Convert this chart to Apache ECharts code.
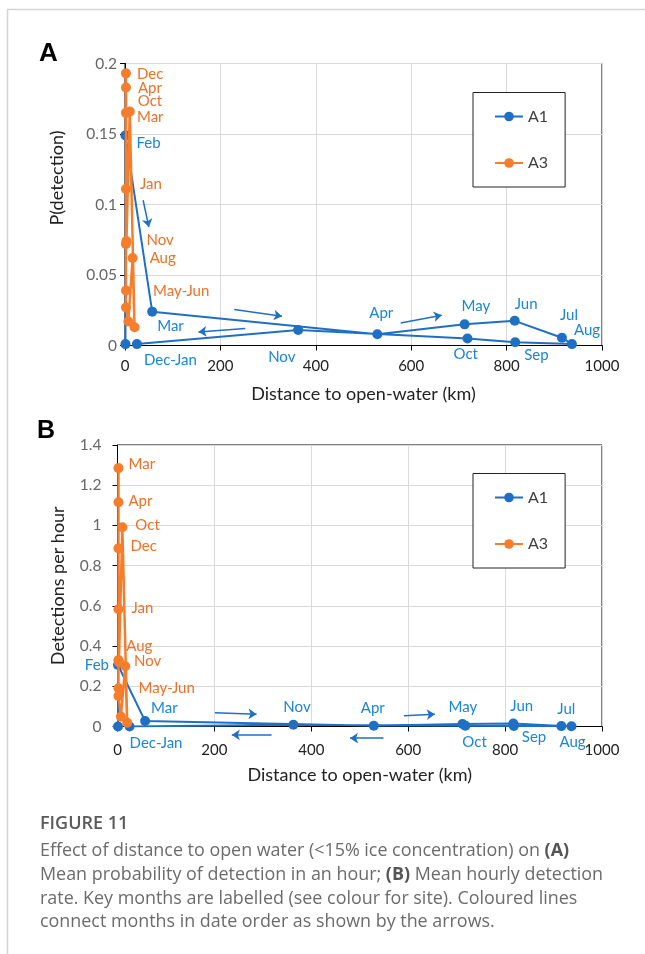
<!DOCTYPE html>
<html><head><meta charset="utf-8">
<script src="https://cdn.jsdelivr.net/npm/echarts@6/dist/echarts.min.js"></script>
<style>html,body{margin:0;padding:0;background:#fff}#c{width:645px;height:954px}</style>
</head><body><div id="c"></div>
<script>
// ---------------- data ----------------
const months = ['Jan','Feb','Mar','Apr','May','Jun','Jul','Aug','Sep','Oct','Nov','Dec'];
// Site A1 (blue)
const distA1 = [1, 1, 57, 529, 712, 817, 916, 937, 818, 718, 363, 25];
const probA1 = [0.001, 0.149, 0.024, 0.008, 0.015, 0.0175, 0.0055, 0.001, 0.0023, 0.005, 0.011, 0.001];
const rateA1 = [0, 0.306, 0.027, 0.004, 0.012, 0.015, 0.002, 0.001, 0.003, 0.004, 0.009, 0];
// Site A3 (orange)
const distA3 = [2, 2, 2, 2, 2, 2, 7, 16, 20, 10, 3, 2];
const probA3 = [0.111, 0.072, 0.165, 0.183, 0.039, 0.027, 0.017, 0.062, 0.013, 0.166, 0.074, 0.193];
const rateA3 = [0.583, 0.33, 1.285, 1.115, 0.19, 0.152, 0.049, 0.30, 0.019, 0.991, 0.32, 0.886];
// arrows (data coordinates: [km, value] start -> end)
const arrowsA = [
  [[38, 0.103], [50, 0.084]],
  [[229, 0.0255], [329, 0.0208]],
  [[252, 0.0121], [154, 0.0096]],
  [[578, 0.016], [664, 0.0215]]
];
const arrowsB = [
  [[201, 0.069], [287, 0.061]],
  [[318, -0.042], [236, -0.042]],
  [[549, -0.056], [480, -0.058]],
  [[591, 0.054], [655, 0.061]]
];
const xTicks = {min: 0, max: 1000, step: 200};
const yTicksA = {min: 0, max: 0.2, step: 0.05};
const yTicksB = {min: 0, max: 1.4, step: 0.2};

// ---------------- label placement (pixel offsets) ----------------
const labA1 = {Feb:{o:[11,8]}, Mar:{o:[5,14]}, Apr:{o:[-8,-21]}, May:{o:[-3,-18]}, Jun:{o:[0,-17]},
  Jul:{o:[-2,-23]}, Aug:{o:[2,-14]}, Sep:{o:[9,13]}, Oct:{o:[-14,16]}, Nov:{o:[-30,27]}, Dec:{o:[7,16],t:'Dec-Jan'}};
const labA3 = {Dec:{o:[11,1]}, Apr:{o:[12,1]}, Oct:{o:[8,-10]}, Mar:{o:[11,4]}, Jan:{o:[14,-5]},
  Nov:{o:[20,-1]}, Aug:{o:[17,0]}, May:{o:[27,1],t:'May-Jun'}};
const labB1 = {Feb:{o:[-9,0],a:'right'}, Mar:{o:[6,-13]}, Dec:{o:[0,17],t:'Dec-Jan'}, Nov:{o:[-10,-18]},
  Apr:{o:[-13,-18]}, May:{o:[-14,-17]}, Jun:{o:[-3,-17]}, Jul:{o:[-4,-17]}, Aug:{o:[-12,16]}, Sep:{o:[8,11]}, Oct:{o:[-3,16]}};
const labB3 = {Mar:{o:[10,-4]}, Apr:{o:[10,-1]}, Oct:{o:[13,-2]}, Dec:{o:[12,-2]}, Jan:{o:[13,-1]},
  Aug:{o:[1,-20]}, Nov:{o:[15,-1]}, May:{o:[20,0],t:'May-Jun'}};

const FONT = 'Lato, "Noto Sans", sans-serif';
const BLUE = '#1f6fc5', BLUE_L = '#1a86d8', ORANGE = '#f57d2b', ORANGE_L = '#ec7228';

function items(dist, vals, labs, labColor) {
  return dist.map((d, i) => {
    const m = months[i], L = labs[m];
    const it = {name: m, value: [d, vals[i]]};
    if (L) it.label = {show: true, formatter: L.t || m, position: 'inside', offset: L.o,
      align: L.a || 'left', verticalAlign: 'middle', color: labColor, fontSize: 15, fontFamily: FONT};
    return it;
  });
}
function lineSeries(name, gi, data, color) {
  return {type: 'line', name, xAxisIndex: gi, yAxisIndex: gi, data, symbol: 'circle', symbolSize: 10,
    lineStyle: {width: name === 'A3' ? 2.5 : 2, color}, itemStyle: {color}, label: {show: false}, z: name === 'A3' ? 3 : 2,
    emphasis: {disabled: true}, animation: false};
}
function arrowSeries(gi, arr) {
  return {type: 'lines', coordinateSystem: 'cartesian2d', xAxisIndex: gi, yAxisIndex: gi, clip: false,
    data: arr.map(c => ({coords: c})), symbol: ['none', 'arrow'], symbolSize: 8,
    lineStyle: {color: BLUE, width: 1.5, opacity: 1, curveness: 0}, z: 4, silent: true, animation: false};
}
function xAxis(gi, margin) {
  return {type: 'value', gridIndex: gi, min: xTicks.min, max: xTicks.max, interval: xTicks.step,
    name: 'Distance to open-water (km)', nameLocation: 'middle', nameGap: 40,
    nameTextStyle: {fontSize: 18, color: '#222', fontFamily: FONT},
    axisLine: {show: true, lineStyle: {color: '#000', width: 1}},
    axisTick: {show: true, length: 5, lineStyle: {color: '#000'}},
    axisLabel: {fontSize: 15, color: '#222', margin, fontFamily: FONT, formatter: v => String(v)},
    splitLine: {show: true, lineStyle: {color: '#d9d9d9', width: 1}}};
}
function yAxis(gi, t, name, margin, gap) {
  return {type: 'value', gridIndex: gi, min: t.min, max: t.max, interval: t.step,
    name, nameLocation: 'middle', nameGap: gap,
    nameTextStyle: {fontSize: 18, color: '#222', fontFamily: FONT},
    axisLine: {show: true, lineStyle: {color: '#000', width: 1}},
    axisTick: {show: true, length: 5, lineStyle: {color: '#000'}},
    axisLabel: {fontSize: 15.5, color: '#666', margin, fontFamily: FONT},
    splitLine: {show: true, lineStyle: {color: '#d9d9d9', width: 1}}};
}
function legend(top) {
  return {left: 473, top, orient: 'vertical', data: ['A1', 'A3'], itemWidth: 28, itemHeight: 12, itemGap: 30.5,
    padding: [16, 17, 16, 21], borderColor: '#222', borderWidth: 1, backgroundColor: '#fff', selectedMode: false,
    textStyle: {fontSize: 16, color: '#404040', fontFamily: FONT}};
}
const capFont = '17.9px "Open Sans", Lato, sans-serif';
function capLine(text, y) {
  return {type: 'text', left: 40, top: y - 8, silent: true,
    style: {text, font: capFont, fill: '#6b6b6b',
      rich: {b: {font: 'bold 17.9px "Open Sans", Lato, sans-serif', fill: '#555'}}}};
}

const option = {
  backgroundColor: '#fff',
  animation: false,
  grid: [
    {left: 125, top: 63.5, width: 477, height: 282, show: true, borderColor: '#000', borderWidth: 1, containLabel: false},
    {left: 117.5, top: 445, width: 484.5, height: 281.5, show: true, borderColor: '#000', borderWidth: 1, containLabel: false}
  ],
  xAxis: [xAxis(0, 13), xAxis(1, 16)],
  yAxis: [yAxis(0, yTicksA, '', 8, 52), yAxis(1, yTicksB, 'Detections per hour', 16, 50)],
  legend: [legend(92.5), legend(473.5)],
  series: [
    lineSeries('A1', 0, items(distA1, probA1, labA1, BLUE_L), BLUE),
    lineSeries('A3', 0, items(distA3, probA3, labA3, ORANGE_L), ORANGE),
    lineSeries('A1', 1, items(distA1, rateA1, labB1, BLUE_L), BLUE),
    lineSeries('A3', 1, items(distA3, rateA3, labB3, ORANGE_L), ORANGE),
    arrowSeries(0, arrowsA),
    arrowSeries(1, arrowsB)
  ],
  graphic: [
    {type: 'line', silent: true, shape: {x1: 7, y1: 9.5, x2: 645, y2: 9.5}, style: {stroke: '#d4d4d4', lineWidth: 1.5}},
    {type: 'line', silent: true, shape: {x1: 7.5, y1: 9.5, x2: 7.5, y2: 954}, style: {stroke: '#d4d4d4', lineWidth: 1.5}},
    {type: 'text', x: 57, y: 178, rotation: Math.PI / 2, silent: true,
      style: {text: 'P(detection)', font: '18px Lato, "Noto Sans", sans-serif', fill: '#222', align: 'center', verticalAlign: 'middle'}},
    {type: 'text', left: 39, top: 41, silent: true, style: {text: 'A', font: 'bold 26px "Liberation Sans", Arial, sans-serif', fill: '#000'}},
    {type: 'text', left: 37, top: 419, silent: true, style: {text: 'B', font: 'bold 25px "Liberation Sans", Arial, sans-serif', fill: '#000'}},
    {type: 'text', left: 40, top: 815, silent: true, style: {text: 'FIGURE 11', font: '600 18px "Open Sans", Lato, sans-serif', fill: '#5a5a5a'}},
    capLine('Effect of distance to open water (<15% ice concentration) on {b|(A)}', 850),
    capLine('Mean probability of detection in an hour; {b|(B)} Mean hourly detection', 874),
    capLine('rate. Key months are labelled (see colour for site). Coloured lines', 898),
    capLine('connect months in date order as shown by the arrows.', 921)
  ]
};
const chart = echarts.init(document.getElementById('c'));
chart.setOption(option);
</script></body></html>
